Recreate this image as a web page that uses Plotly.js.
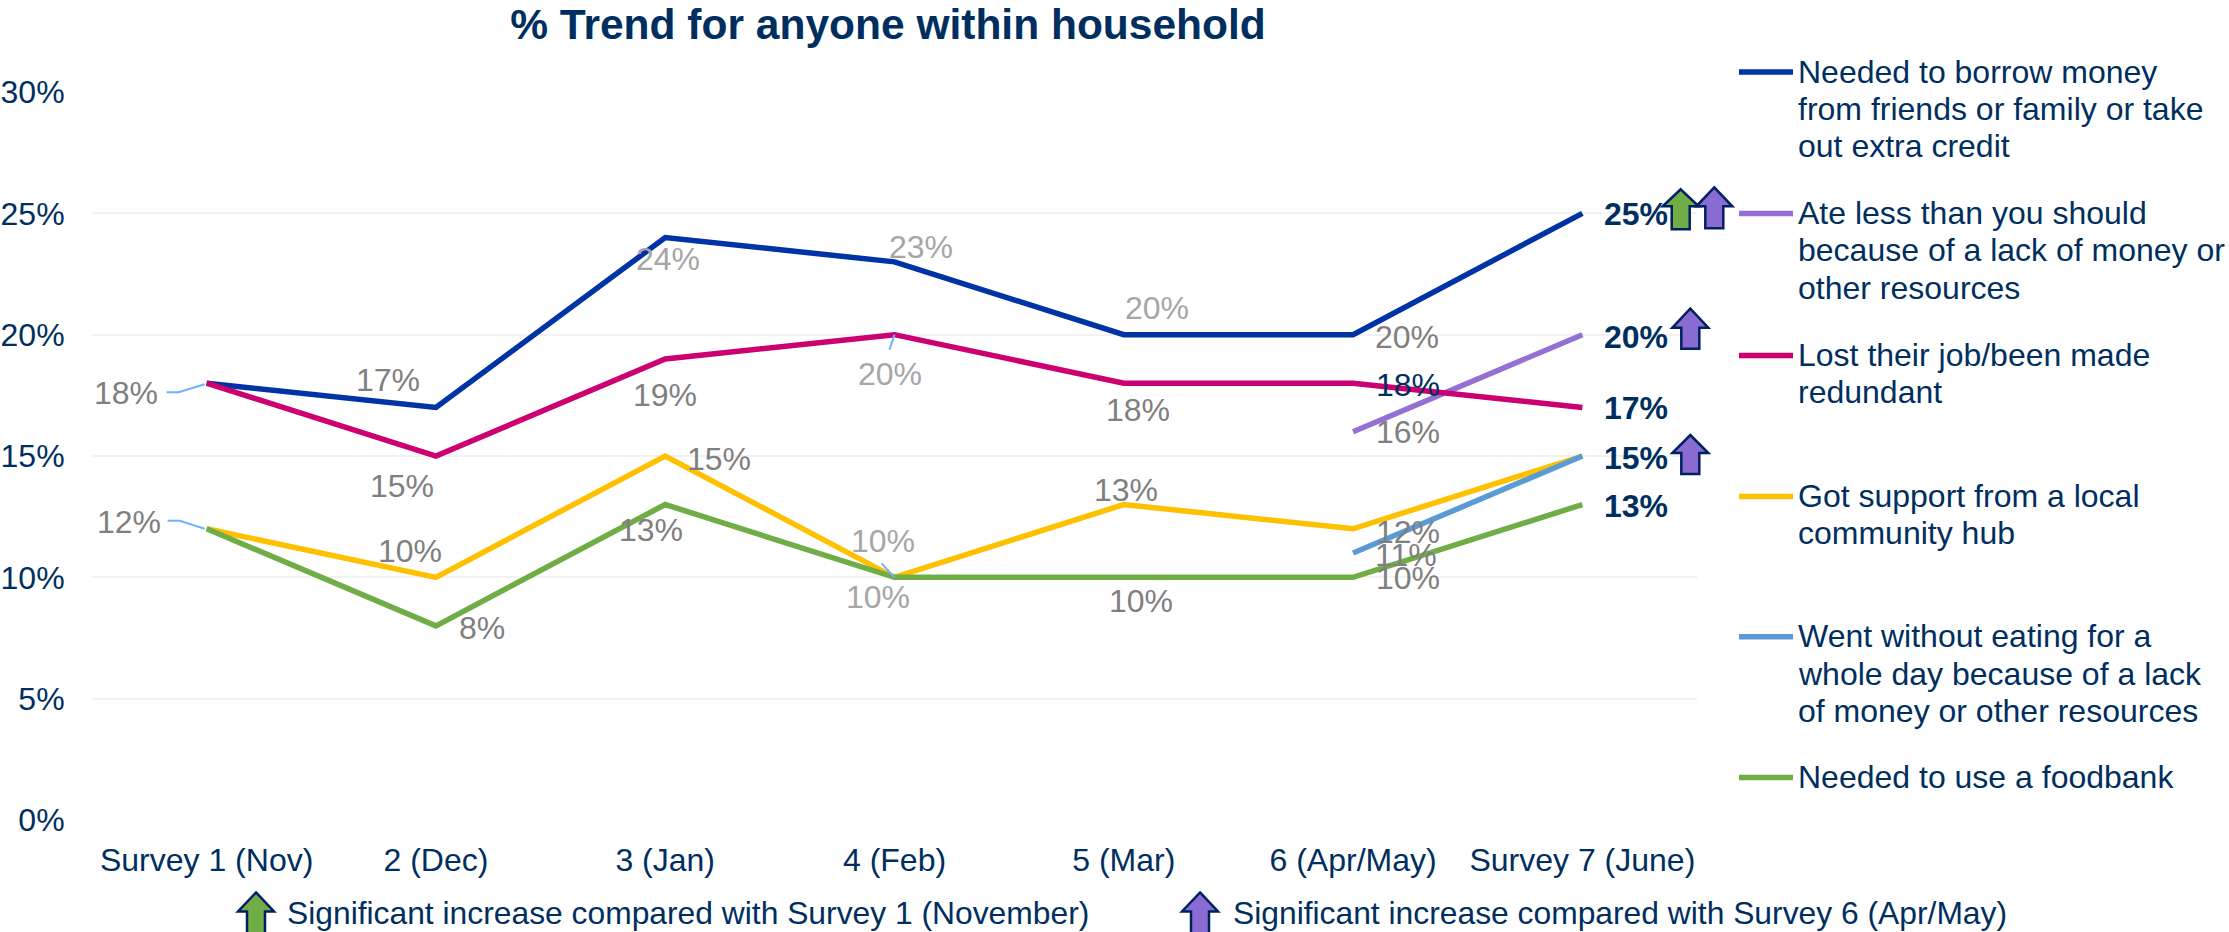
<!DOCTYPE html>
<html><head><meta charset="utf-8">
<script src="https://cdn.plot.ly/plotly-3.0.1.min.js"></script>
<style>html,body{margin:0;padding:0;background:#fff}#c{width:2229px;height:932px}</style>
</head><body><div id="c"></div>
<script>
const categories = ['Survey 1 (Nov)','2 (Dec)','3 (Jan)','4 (Feb)','5 (Mar)','6 (Apr/May)','Survey 7 (June)'];
const borrow  = [18,17,24,23,20,20,25];
const ateLess = [null,null,null,null,null,16,20];
const lostJob = [18,15,19,20,18,18,17];
const hub     = [12,10,15,10,13,12,15];
const noEat   = [null,null,null,null,null,11,15];
const foodbank= [12,8,13,10,10,10,13];
const names = [
 'Needed to borrow money<br>from friends or family or take<br>out extra credit',
 'Ate less than you should<br>because of a lack of money or<br>other resources',
 'Lost their job/been made<br>redundant',
 'Got support from a local<br>community hub',
 'Went without eating for a<br>whole day because of a lack<br>of money or other resources',
 'Needed to use a foodbank'];
const values = [borrow,ateLess,lostJob,hub,noEat,foodbank];
const colors = ['#0033A5','#9370D3','#CC0070','#FFC000','#5B9BD5','#70AD47'];

const NAVY='#002F5F', GREY='#7F7F7F', LIGHT='#A6A6A6';
const L=92,R=1697,T=92,B=820.5;
const labelOffsets = [
 [[0,-81,10,GREY],[1,-48,-27,GREY],[2,3,21,LIGHT],[3,26,-15,LIGHT],[4,33,-27,LIGHT],[5,54,2,GREY],[6,54,1,NAVY,1]],
 [[5,55,0,GREY],[6,54,2,NAVY,1]],
 [[1,-34,30,GREY],[2,0,36,GREY],[3,-5,39,LIGHT],[4,14,27,GREY],[5,55,2,NAVY],[6,54,1,NAVY,1]],
 [[0,-78,-7,GREY],[1,-26,-26,GREY],[2,54,3,GREY],[3,-12,-36,LIGHT],[4,2,-15,GREY],[5,55,3,GREY],[6,54,2,NAVY,1]],
 [[5,53,2,GREY]],
 [[1,46,2,GREY],[2,-14,25,GREY],[3,-17,20,LIGHT],[4,17,24,GREY],[5,55,1,GREY],[6,54,1,NAVY,1]]
];
const traces = values.map((v,i)=>({
  type:'scatter',mode:'lines',x:categories,y:v,name:names[i].replace(/<br>/g,' '),
  line:{color:colors[i],width:5.5},showlegend:false,hoverinfo:'skip',connectgaps:false
}));
const FONT='Liberation Sans';
const annotations=[], shapes=[];
labelOffsets.forEach((list,s)=>list.forEach(([p,dx,dy,col,b])=>{
  annotations.push({xref:'x',yref:'y',x:p,y:values[s][p],text:(b?'<b>':'')+values[s][p]+'%'+(b?'</b>':''),
    showarrow:false,xanchor:'center',yanchor:'middle',xshift:dx,yshift:-dy,
    font:{family:FONT,size:32,color:col}});
}));
const px=x=>(x-L)/(R-L), py=y=>(B-y)/(B-T);
const legendY=[72,213.5,355.7,496.7,637,778];
names.forEach((n,i)=>{
  shapes.push({type:'line',xref:'paper',yref:'paper',x0:px(1739),x1:px(1793),y0:py(legendY[i]),y1:py(legendY[i]),
    line:{color:colors[i],width:5.5}});
  n.split('<br>').forEach((t,k)=>annotations.push({xref:'paper',yref:'paper',x:px(1797),y:py(legendY[i]-0.5+k*37.4),
    xanchor:'left',yanchor:'middle',align:'left',showarrow:false,text:t,borderpad:0,font:{family:FONT,size:32,color:NAVY}}));
});
const leader=(pi,val,pts)=>shapes.push({type:'path',xref:'x',yref:'y',xsizemode:'pixel',ysizemode:'pixel',xanchor:pi,yanchor:val,
  path:pts.map((q,k)=>(k?'L':'M')+q[0]+' '+(-q[1])).join(' '),line:{color:'#6CB4FF',width:2}});
leader(0,borrow[0],[[-40,9],[-28,9],[-2,1]]);
leader(0,hub[0],[[-39,-8],[-27,-8],[-2,0]]);
leader(3,lostJob[3],[[0,0],[-5,15]]);
leader(3,hub[3],[[0,0],[-13,-14]]);
const arrow=(val,cx,tip,base,bot,fill)=>{
  const p=[[0,tip],[18,base],[9,base],[9,bot],[-9,bot],[-9,base],[-18,base]];
  shapes.push({type:'path',xref:'paper',yref:'y',xsizemode:'pixel',ysizemode:'pixel',xanchor:px(cx),yanchor:val,layer:'above',
    path:p.map((q,k)=>(k?'L':'M')+q[0]+' '+(-q[1])).join(' ')+' Z',fillcolor:fill,line:{color:'#002060',width:2.5}});
};
const GREEN='#70AD47',PURPLE='#8A6BD1';
arrow(borrow[6],1680.7,-24,-7,16,GREEN);
arrow(borrow[6],1714.3,-26,-7,15,PURPLE);
arrow(ateLess[6],1690.3,-26,-7,14,PURPLE);
arrow(noEat[6],1690.3,-21,-3,18,PURPLE);
const keyArrow=(cx,fill)=>{
  const p=[[0,893],[18,912],[9,912],[9,934],[-9,934],[-9,912],[-18,912]];
  shapes.push({type:'path',xref:'paper',yref:'paper',
    path:p.map((q,k)=>(k?'L':'M')+px(cx+q[0])+' '+py(q[1])).join(' ')+' Z',fillcolor:fill,line:{color:'#002060',width:2.5}});
};
keyArrow(256,GREEN); keyArrow(1200,PURPLE);
annotations.push({xref:'paper',yref:'paper',x:px(285),y:py(913.5),xanchor:'left',yanchor:'middle',showarrow:false,
  text:'Significant increase compared with Survey 1 (November)',font:{family:FONT,size:31.8,color:NAVY}});
annotations.push({xref:'paper',yref:'paper',x:px(1231),y:py(913.5),xanchor:'left',yanchor:'middle',showarrow:false,
  text:'Significant increase compared with Survey 6 (Apr/May)',font:{family:FONT,size:31.8,color:NAVY}});

const layout={
  width:2229,height:932,paper_bgcolor:'#fff',plot_bgcolor:'#fff',showlegend:false,
  margin:{l:L,r:2229-R,t:T,b:932-B,pad:0},
  title:{text:'<b>% Trend for anyone within household</b>',x:888/2229,xanchor:'center',y:1-24/932,yanchor:'middle',
    font:{family:FONT,size:42.5,color:NAVY}},
  xaxis:{type:'category',categories:categories,categoryorder:'array',categoryarray:categories,showgrid:false,zeroline:false,showline:false,
    ticks:'outside',ticklen:12,tickcolor:'rgba(0,0,0,0)',tickfont:{family:FONT,size:32,color:NAVY},range:[-0.5,6.5]},
  yaxis:{range:[0,30],tick0:0,dtick:5,ticksuffix:'%',showgrid:true,gridcolor:'#F2F2F2',gridwidth:2,zeroline:false,showline:false,
    ticks:'outside',ticklen:20,tickcolor:'rgba(0,0,0,0)',tickfont:{family:FONT,size:32,color:NAVY}},
  annotations:annotations,shapes:shapes
};
Plotly.newPlot('c',traces,layout,{staticPlot:true,displayModeBar:false});
</script></body></html>
